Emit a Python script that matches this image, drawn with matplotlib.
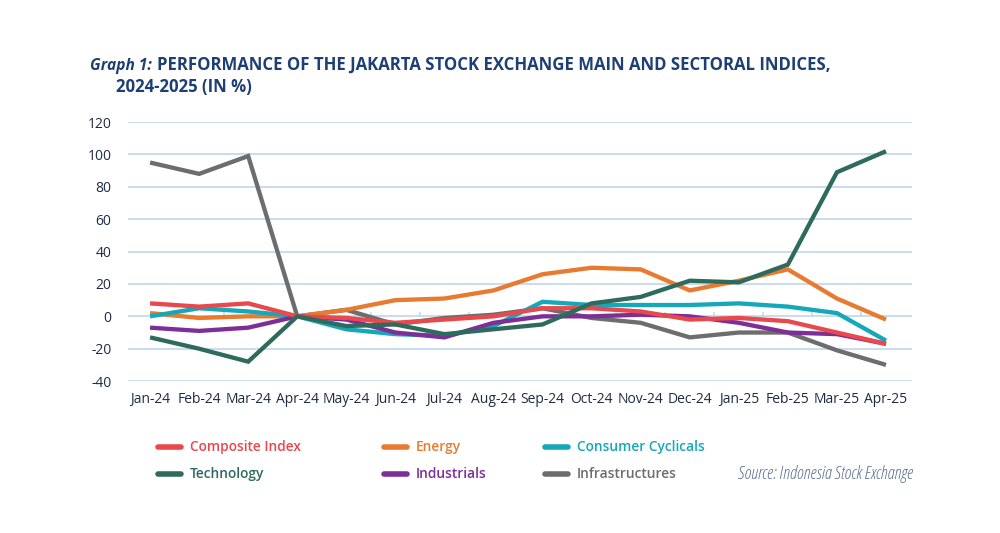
import matplotlib
matplotlib.use('Agg')
import matplotlib.pyplot as plt
from matplotlib import font_manager as fm
from matplotlib.lines import Line2D

months = ['Jan-24', 'Feb-24', 'Mar-24', 'Apr-24', 'May-24', 'Jun-24', 'Jul-24', 'Aug-24',
          'Sep-24', 'Oct-24', 'Nov-24', 'Dec-24', 'Jan-25', 'Feb-25', 'Mar-25', 'Apr-25']

composite = [8, 6, 8, 0, -1, -4, -2, 0, 5, 5, 3, -2, -1, -3, -10, -17]
energy = [2, -1, 0, 0, 4, 10, 11, 16, 26, 30, 29, 16, 22, 29, 11, -2]
consumer = [0, 5, 3, 0, -8, -11, -12, -6, 9, 7, 7, 7, 8, 6, 2, -15]
technology = [-13, -20, -28, 0, -6, -5, -11, -8, -5, 8, 12, 22, 21, 32, 89, 102]
industrials = [-7, -9, -7, 0, -2, -10, -13, -4, 0, 0, 1, 0, -4, -10, -11, -17]
infrastructures = [95, 88, 99, 0, 4, -5, -1, 1, 5, -1, -4, -13, -10, -10, -21, -30]

series = [
    ('Composite Index', composite, '#E9484C'),
    ('Energy', energy, '#E87B30'),
    ('Consumer Cyclicals', consumer, '#14A8BA'),
    ('Technology', technology, '#2F6B5D'),
    ('Industrials', industrials, '#7D2E97'),
    ('Infrastructures', infrastructures, '#6D6D6D'),
]
draw_order = [5, 1, 2, 4, 0, 3]

plt.rcParams['axes.unicode_minus'] = False

# look for a condensed face, the source uses a narrow sans
entries = fm.fontManager.ttflist
cond = {f.name for f in entries if str(f.stretch) in ('condensed', 'semi-condensed', 'extra-condensed')}
names = {f.name for f in entries}
label_font = dict(family=['DejaVu Sans'])
for fam in ['Noto Sans', 'Open Sans', 'DejaVu Sans']:
    if fam in cond:
        label_font = dict(family=[fam, 'DejaVu Sans'], fontstretch='condensed')
        break
else:
    for fam in ['Roboto Condensed', 'Liberation Sans Narrow', 'Open Sans Condensed', 'Roboto']:
        if fam in names:
            label_font = dict(family=[fam, 'DejaVu Sans'])
            break
tick_font = ['Open Sans', 'DejaVu Sans']

navy = '#1D3F73'
W, H = 1000, 533

fig = plt.figure(figsize=(10, 5.33), dpi=100)
ax = fig.add_axes([0.128, 0.285, 0.784, 0.486])
renderer = fig.canvas.get_renderer()

x = list(range(len(months)))
for i in draw_order:
    name, vals, col = series[i]
    ax.plot(x, vals, color=col, lw=3.1, solid_joinstyle='miter', solid_capstyle='butt')

ax.set_xlim(-0.45, 15.53)
ax.set_ylim(-40, 120)
ax.set_yticks(range(-40, 121, 20))
ax.set_xticks(x)
ax.set_xticklabels(months)
ax.yaxis.grid(True, color='#BDD7EE', lw=1.2)
ax.set_axisbelow(True)
for s in ax.spines.values():
    s.set_visible(False)
ax.tick_params(length=0, labelsize=10, colors='#1F2B45')
ax.tick_params(axis='y', pad=12)
ax.tick_params(axis='x', pad=8)
for lab in ax.get_xticklabels() + ax.get_yticklabels():
    lab.set_fontfamily(tick_font)
    lab.set_fontstretch('normal')

# small ticks on the zero line between categories
for b in [i + 0.5 for i in range(-1, 15)]:
    ax.plot([b, b], [0, 2.2], color='#BDD7EE', lw=1.2, zorder=0.5)


def fit_text(xp, yp, s, wp, **kw):
    t = fig.text(xp / W, 1 - yp / H, s, fontsize=10, **kw)
    w = t.get_window_extent(renderer).width
    t.set_fontsize(10 * wp / w)
    return t


# title
g1 = fit_text(90, 70, 'Graph 1:', 62, fontweight='bold', fontstyle='italic',
              color=navy, va='baseline', **label_font)
main = fit_text(157, 70, 'PERFORMANCE OF THE JAKARTA STOCK EXCHANGE MAIN AND SECTORAL INDICES,', 675,
                fontweight='bold', color=navy, va='baseline', **label_font)
fig.text(116 / W, 1 - 92 / H, '2024-2025 (IN %)', fontsize=main.get_fontsize(), fontweight='bold',
         color=navy, va='baseline', **label_font)

# legend drawn by hand
cols_x = [156, 382, 543]
rows_y = [447, 474]
lsize = None
for k, (name, vals, col) in enumerate(series):
    r, c = divmod(k, 3)
    lx, ly = cols_x[c], rows_y[r]
    fig.add_artist(Line2D([(lx + 2) / W, (lx + 25) / W], [1 - ly / H, 1 - ly / H],
                          transform=fig.transFigure, color=col, lw=4, solid_capstyle='round'))
    if lsize is None:
        t = fit_text(lx + 34, ly, name, 112, color=col, va='center', fontweight='semibold', **label_font)
        lsize = t.get_fontsize()
    else:
        fig.text((lx + 34) / W, 1 - ly / H, name, fontsize=lsize, color=col, va='center',
                 fontweight='semibold', **label_font)

src = fit_text(738, 474, 'Source: Indonesia Stock Exchange', 175, fontstyle='italic',
               color='#5A6E94', va='center', **label_font)

fig.savefig('out.png', dpi=100)
